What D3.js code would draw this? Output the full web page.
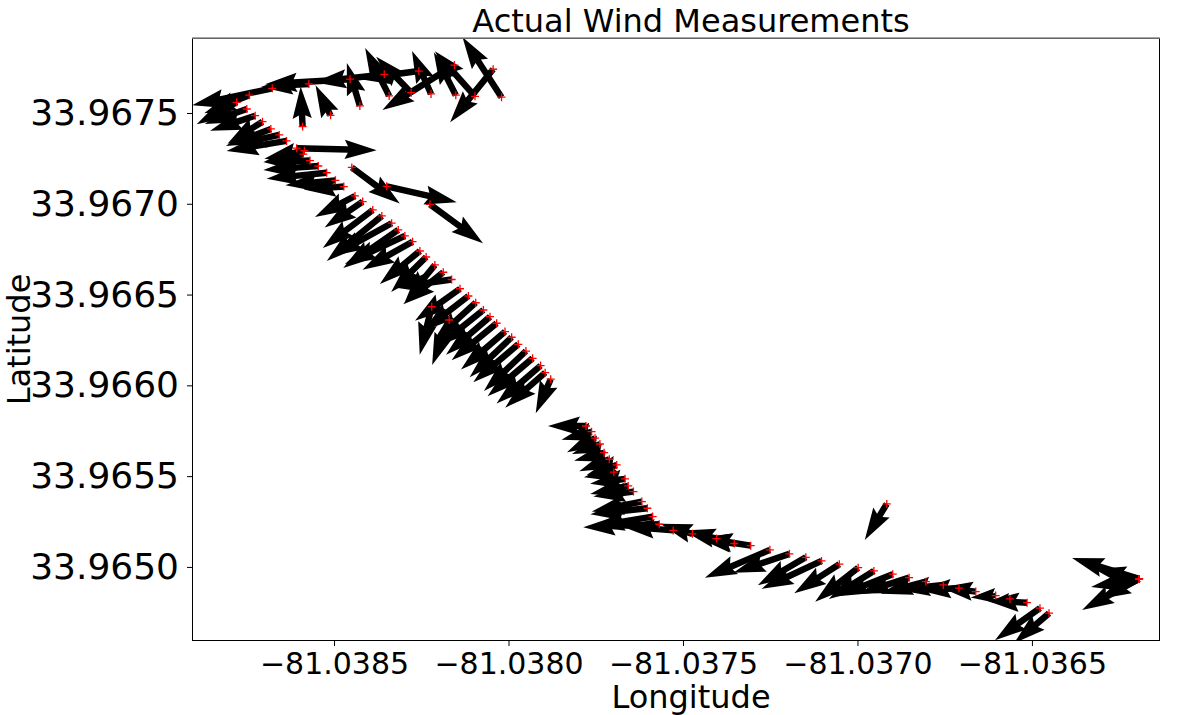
<!DOCTYPE html>
<html><head><meta charset="utf-8">
<script src="https://cdn.jsdelivr.net/npm/d3@7"></script>
<style>body{margin:0;background:#fff}svg{display:block}text{font-family:"DejaVu Sans",sans-serif}</style>
</head><body>
<svg id="c" width="1196" height="715"></svg>
<script>
const title = "Actual Wind Measurements";
const xLabel = "Longitude", yLabel = "Latitude";
const xTicks = [-81.0385, -81.0380, -81.0375, -81.0370, -81.0365];
const yTicks = [33.9650, 33.9655, 33.9660, 33.9665, 33.9670, 33.9675];

const lon = [
-81.038020,-81.038044,-81.038096,-81.038151,-81.038155,-81.038222,-81.038279,-81.038257,-81.038342,-81.038356,
-81.038426,-81.038454,-81.038510,-81.038590,-81.038572,-81.038677,-81.038743,-81.038779,-81.038750,-81.038726,
-81.038705,-81.038681,-81.038657,-81.038636,-81.038607,-81.038585,-81.038588,-81.038569,-81.038545,-81.038521,
-81.038496,-81.038472,-81.038449,-81.038349,-81.038225,
-81.038440,-81.038418,-81.038389,-81.038363,-81.038335,-81.038316,-81.038297,-81.038275,-81.038254,-81.038236,
-81.038211,-81.038187,-81.038163,-81.038139,-81.038115,-81.038094,-81.038072,-81.038053,-81.038034,-81.038010,
-81.037991,-81.037972,-81.037950,-81.037931,-81.037908,-81.037895,-81.037879,-81.038220,-81.038170,
-81.037778,-81.037762,-81.037752,-81.037738,-81.037726,-81.037711,-81.037690,-81.037698,-81.037666,-81.037657,
-81.037642,-81.037618,-81.037602,-81.037587,-81.037568,-81.037528,-81.037473,-81.037404,-81.037353,-81.037306,
-81.037251,-81.037195,-81.037148,-81.037103,-81.037052,-81.036998,-81.036953,-81.036899,-81.036852,-81.036804,
-81.036754,-81.036709,-81.036661,-81.036604,-81.036563,-81.036514,-81.036477,-81.036451,-81.036916,
-81.036193,-81.036193,-81.036193,-81.036193,-81.036193
];
const lat = [
33.967587,33.967741,33.967592,33.967598,33.967764,33.967605,33.967612,33.967731,33.967594,33.967713,
33.967539,33.967686,33.967487,33.967425,33.967660,33.967636,33.967598,33.967559,33.967522,33.967485,
33.967452,33.967412,33.967379,33.967346,33.967306,33.967292,33.967273,33.967238,33.967208,33.967171,
33.967129,33.967095,33.967200,33.967096,33.966997,
33.967043,33.967012,33.966966,33.966933,33.966893,33.966856,33.966823,33.966791,33.966740,33.966707,
33.966663,33.966623,33.966583,33.966532,33.966492,33.966455,33.966415,33.966378,33.966342,33.966296,
33.966265,33.966226,33.966189,33.966149,33.966109,33.966070,33.966034,33.966433,33.966360,
33.965776,33.965745,33.965709,33.965677,33.965629,33.965593,33.965562,33.965522,33.965485,33.965446,
33.965415,33.965360,33.965323,33.965277,33.965235,33.965201,33.965182,33.965156,33.965129,33.965117,
33.965094,33.965072,33.965053,33.965033,33.965015,33.964996,33.964978,33.964960,33.964941,33.964919,
33.964901,33.964883,33.964864,33.964842,33.964824,33.964803,33.964773,33.964745,33.965347,
33.964934,33.964934,33.964934,33.964934,33.964934
];
const u = [
-3.9,-4.3,-4.0,-2.2,-7.2,-1.9,-3.5,-6.0,-2.4,-7.0,
-1.3,-8.5,-1.5,-0.2,-4.8,-8.0,-4.5,-4.0,-4.2,-4.5,
-3.5,-4.5,-4.5,-6.0,8.0,-4.0,-4.0,-4.5,-5.5,-6.0,
-5.0,-4.0,4.8,7.0,5.3,
-4.0,-3.8,-5.0,-5.5,-6.0,-5.5,-6.0,-5.0,-4.0,-3.5,
-3.0,-4.0,-5.7,-4.5,-4.5,-4.2,-4.5,-4.4,-4.5,-4.4,
-4.2,-4.5,-4.2,-4.5,-4.4,-4.0,-1.5,-1.2,-1.7,
-3.8,-3.0,-2.8,-2.8,-3.0,-3.0,-3.0,-3.0,-3.5,-3.8,
-4.0,-5.0,-5.7,-6.0,-7.6,-5.1,-3.2,-3.3,-3.5,-5.0,
-6.5,-5.6,-4.8,-6.0,-4.5,-4.3,-4.5,-5.5,-5.0,-4.5,
-4.5,-4.0,-3.5,-2.5,-2.0,-4.0,-4.5,-3.5,-2.2,
-6.7,-4.5,-4.8,-5.7,-4.0
];
const v = [
6.0,-5.3,4.5,4.3,-4.5,4.3,3.6,-0.8,4.8,-0.8,
4.3,-0.5,3.0,4.0,-0.3,-1.7,-1.8,-2.2,-1.5,-1.5,
-2.2,-1.7,-1.0,-1.0,-0.2,-0.8,-0.8,-0.2,-0.4,-0.6,
-0.5,-0.3,-3.6,-1.6,-3.9,
-2.1,-2.6,-3.8,-4.5,-3.3,-3.8,-2.8,-2.8,-3.3,-3.5,
-3.7,-3.2,-0.8,-3.2,-3.5,-3.8,-3.6,-3.8,-3.7,-3.8,
-4.0,-3.8,-4.0,-3.8,-3.8,-3.5,-3.4,-4.8,-4.5,
0.0,-0.8,-1.4,-1.0,-0.8,-1.2,-1.0,-0.5,-0.5,-0.8,
-0.5,-1.0,-0.6,-1.0,-0.3,0.4,1.0,0.8,0.5,0.8,
-2.8,-1.9,-2.8,-2.8,-2.9,-3.4,-2.8,-2.2,-1.6,-1.2,
-0.5,-0.2,0.4,-0.2,-0.3,0.2,-3.2,-3.0,-3.6,
2.1,1.0,-0.8,-3.1,-2.0
];

const svg = d3.select("#c");
const L = 192, R = 1160, T = 38, B = 641;
const x = d3.scaleLinear().domain([-81.038907, -81.036133]).range([L, R]);
const y = d3.scaleLinear().domain([33.964592, 33.967913]).range([B, T]);
const vec = d3.scaleLinear().domain([0, 1]).range([0, 10]); // px per unit of wind

svg.append("defs").append("clipPath").attr("id", "clip")
  .append("rect").attr("x", L).attr("y", T).attr("width", R - L).attr("height", B - T);

const g = svg.append("g").attr("clip-path", "url(#clip)");

const w = 6.4, hl = 5 * w, hal = 4.5 * w, hw = 1.5 * w;
function arrowPath(len) {
  let s = 1, Ld = len;
  if (len < hl) { s = len / hl; Ld = hl; }
  const pts = [[0, -w / 2], [Ld - hal, -w / 2], [Ld - hl, -hw], [Ld, 0], [Ld - hl, hw], [Ld - hal, w / 2], [0, w / 2]]
    .map(p => [p[0] * s, p[1] * s]);
  return "M" + pts.map(p => p.join(",")).join("L") + "Z";
}

const data = lon.map((d, i) => ({ lon: d, lat: lat[i], u: u[i], v: v[i] }));

g.selectAll("path.arrow").data(data).join("path")
  .attr("class", "arrow")
  .attr("d", d => arrowPath(Math.hypot(vec(d.u), vec(d.v))))
  .attr("transform", d => `translate(${x(d.lon)},${y(d.lat)}) rotate(${Math.atan2(-vec(d.v), vec(d.u)) * 180 / Math.PI})`)
  .attr("fill", "#000");

const ms = 4;
g.selectAll("path.mk").data(data).join("path")
  .attr("class", "mk")
  .attr("d", d => { const px = x(d.lon), py = y(d.lat); return `M${px - ms},${py}H${px + ms}M${px},${py - ms}V${py + ms}`; })
  .attr("stroke", "#ff0000").attr("stroke-width", 1.3).attr("fill", "none");

// frame
svg.append("rect").attr("x", L + 0.5).attr("y", T + 0.5).attr("width", R - L - 1).attr("height", B - T - 1)
  .attr("fill", "none").attr("stroke", "#000").attr("stroke-width", 1);
svg.append("line").attr("x1", L).attr("x2", R).attr("y1", T).attr("y2", T)
  .attr("stroke", "#888").attr("stroke-width", 1.5);

const fmt = d3.format(".4f");
const xAxis = svg.append("g").attr("transform", `translate(0,${B})`)
  .call(d3.axisBottom(x).tickValues(xTicks).tickFormat(fmt).tickSize(5).tickPadding(7));
xAxis.select(".domain").remove();
xAxis.selectAll("text").attr("font-size", 30).attr("fill", "#000").attr("font-family", "DejaVu Sans");

const yAxis = svg.append("g").attr("transform", `translate(${L},0)`)
  .call(d3.axisLeft(y).tickValues(yTicks).tickFormat(fmt).tickSize(5).tickPadding(8));
yAxis.select(".domain").remove();
yAxis.selectAll("text").attr("font-size", 36).attr("fill", "#000").attr("font-family", "DejaVu Sans");

const cx = 691;
svg.append("text").attr("x", cx).attr("y", 32).attr("text-anchor", "middle")
  .attr("font-size", 32).text(title);
svg.append("text").attr("x", cx).attr("y", 708).attr("text-anchor", "middle")
  .attr("font-size", 32).text(xLabel);
svg.append("text").attr("transform", `translate(30,${(T + B) / 2}) rotate(-90)`).attr("text-anchor", "middle")
  .attr("font-size", 32).text(yLabel);
</script>
</body></html>
